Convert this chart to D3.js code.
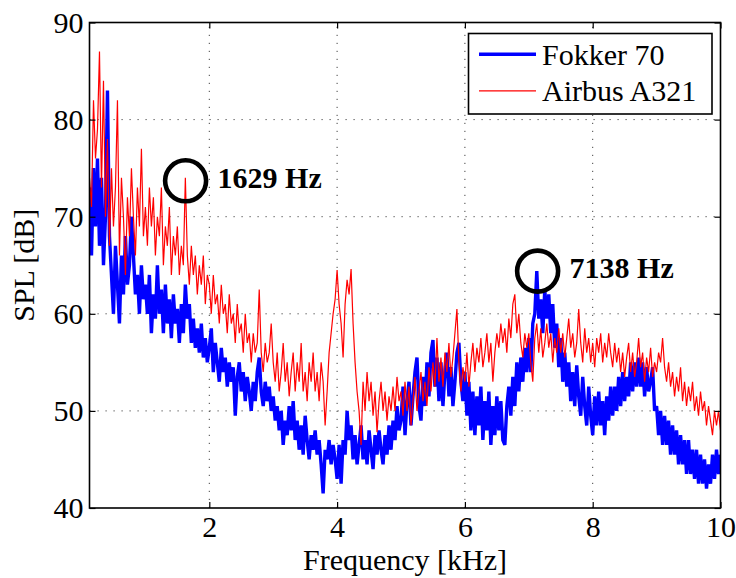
<!DOCTYPE html>
<html><head><meta charset="utf-8">
<script src="https://cdn.jsdelivr.net/npm/d3@7"></script>
<style>
body{margin:0;background:#fff}
svg{display:block}
text{font-family:"Liberation Serif","Times New Roman",Tinos,serif;fill:#000}
</style>
</head><body>
<svg id="chart" width="736" height="578"></svg>
<script>
// Frequency bins (kHz): first bin and bin spacing
const freqStartKHz = 0.125;
const freqStepKHz = 0.03125;

// SPL [dB], Fokker 70 (blue)
const fokker70 = [
  // 0.125 - 0.969 kHz
  73,66,75,69,76,67,74,65,70,83,68,64,60,67,63,59,66,62,68,63,65,70,66,62,64,60,65,61.5,
  // 1 kHz
  63,60,64,58,62,59.5,65,60,62.5,58,63,59,61.5,57.5,62,59,60.5,57,61,58,63,59.5,61,57,59.5,56.5,58.5,56,59,55.5,57.5,55,
  // 2 kHz
  56.5,58.5,54,57,55,53,56.5,54,55.5,52.5,55,53,54.5,49.5,53.5,55,52,54,51,53.5,52,50,53,51,54,55.5,52,50.5,53,51,52.5,50,
  // 3 kHz
  51.5,49,50.5,48,50,46.5,49,47.5,50.5,48,51,47,49,46,48.5,45.5,49.5,47,45,47.5,46,48,45.5,47,44.5,41.5,46,45,47,44.5,46.5,45,
  // 4 kHz
  43,46.5,42.5,47,45.5,50,47,48.5,45,47.5,44.5,46.5,48.5,45,47,44.5,48,46,44,47.5,45.5,48,46,44.5,47.5,45.5,48.5,46,49,47,50.5,48,
  // 5 kHz
  49,52.5,47.5,51,53,48.5,51.5,54,55.5,50.5,49,53.5,50.5,55,51.5,56,57.3,52.5,55.5,51,55,50.5,54,56,51.5,54.5,50.5,53,56,57,53,51,
  // 6 kHz
  54,49.5,53,48,52,47.5,51.5,48.5,52.5,47,51,48,52,46.5,50.5,47.5,51.5,48,51,47,46.5,50.5,52.5,49.5,53.5,50.5,55,52,55.5,53,56.5,54,
  // 7 kHz
  57.5,54,59,60,64.4,59.5,61.5,58,62.5,59.5,62,58,61,56.5,59,54.5,57.5,53,56,52.5,55,51,54,50.5,54.7,51.5,49.5,53.5,50.5,48.5,52.5,49.5,
  // 8 kHz
  47.5,51.5,48.5,52,48.5,51,47.5,51.5,49,52.5,49.5,52.5,50,53.5,50.5,54,51,53.5,51.5,55,52,55,52.5,55.5,52.5,55,51.5,54.5,52,53,54.5,50,
  // 9 kHz
  50.5,47.5,50,46.5,49.5,46.5,49,45.5,48.5,45.5,48,44.5,47.5,44.5,47,43.5,47,43.5,46,43,46,42.5,45.5,42.5,45,42,44.5,42.5,45.5,43,46,43.5,
  // 10 kHz
  45.5
];

// SPL [dB], Airbus A321 (red)
const airbusA321 = [
  // 0.125 - 0.969 kHz
  74,71,82,76,79,87,73,84,70,78,67,75,69,73,82,66,74,70,64,72,68,75,70,66,73,69,77,68,
  // 1 kHz
  71,67,73,69,72,66,70,68,73,65,69,67,71,64,68,66,69,64,67,65,74,66,63,67,64,66,62,65,63,66,61,64,
  // 2 kHz
  63,60,64,61,62,59,63,60,61,58,62,59,60,57,61,58,59,56,60,57,58,55,58,56,57,62.5,56,54,57,55,56,59,
  // 3 kHz
  55,53,56,52,54,57,53,55,51.5,54,56,52,55,53,57,52,54,51,55,53,56,52,54,51,55,53,48.5,52,56,58,60,61.5,
  // 4 kHz
  64.5,61,59,55.5,61,63.5,62,64.6,59,55,52,50,46.5,53,50,54,51,53,49.5,52,47.8,51,53,50,52,49,51.5,50,52.5,50,53.5,51,
  // 5 kHz
  52,49.5,53,50,52.5,48.5,51,53.5,50,52,54,51,53,50.5,54.5,52,55,52.5,57.5,53,55.5,52.5,56,54,57,53.5,55.5,58,60.5,55,52,54.5,
  // 6 kHz
  53,56,52.5,55,57,54,56.5,55,57.5,54.5,56,58,55,57,53,56,58,56.5,59,57,58.5,56,59.5,57.5,61,62,58,60,57,55.5,58,56.5,
  // 7 kHz
  58,55,53,57.5,59,56,58.5,55.5,57,59,56.5,58,55,57.5,56,58.5,56,58,55.5,57.5,59.5,56.5,58,55.5,57,60.5,57,55,58.5,56,57.5,55,
  // 8 kHz
  57,54.5,57.5,56,58,55,57,55.5,58,56,54.5,57,55,56.5,54,56,53.5,55.5,57,54,56,53.5,55,57.5,54.5,56,53,55.5,54,56.5,53.5,55,
  // 9 kHz
  54,56,55,57.5,54.5,53,55,52.5,54,51.5,53.5,52,54.5,51,53,50.5,52.5,51,53,50,51.5,49.5,52,50,51,48.5,50.5,49,47.5,50,48.5,50,
  // 10 kHz
  48
];

const seriesNames = ["Fokker 70", "Airbus A321"];
const xTicks = [2, 4, 6, 8, 10];
const yTicks = [40, 50, 60, 70, 80, 90];
const annotFreqKHz = [1.629, 7.138];
const annotLevelDb = [73.7, 64.4];
const annotLabels = ["1629 Hz", "7138 Hz"];

const freq = fokker70.map((_, i) => freqStartKHz + i * freqStepKHz);

const FONT = "'Liberation Serif','Times New Roman',Tinos,serif";
const svg = d3.select("#chart");
const L = 89.5, R = 720.5, T = 22.5, B = 508;
const x = d3.scaleLinear().domain([0.125, 10]).range([L, R]);
const y = d3.scaleLinear().domain([40, 90]).range([B, T]);

svg.append("rect").attr("width", 736).attr("height", 578).attr("fill", "#fff");

svg.append("defs").append("clipPath").attr("id", "clip")
  .append("rect").attr("x", L).attr("y", T).attr("width", R - L).attr("height", B - T);

// grid
const grid = svg.append("g").attr("stroke", "#444").attr("stroke-width", 1)
  .attr("stroke-dasharray", "1.2,6.8").attr("fill", "none");
xTicks.filter(t => t < 10).forEach(t => {
  grid.append("line").attr("x1", x(t)).attr("x2", x(t)).attr("y1", B).attr("y2", T);
});
yTicks.filter(t => t > 40 && t < 90).forEach(t => {
  grid.append("line").attr("x1", L).attr("x2", R).attr("y1", y(t)).attr("y2", y(t));
});

// lines
const line = d3.line().x((d, i) => x(freq[i])).y(d => y(d));
const plot = svg.append("g").attr("clip-path", "url(#clip)");
plot.append("path").datum(fokker70).attr("d", line)
  .attr("fill", "none").attr("stroke", "#0000ff").attr("stroke-width", 3.4);
plot.append("path").datum(airbusA321).attr("d", line)
  .attr("fill", "none").attr("stroke", "#ff0000").attr("stroke-width", 1.2);

// axes
function styleAxis(g) {
  g.attr("font-family", null).attr("font-size", null);
  g.select(".domain").remove();
  g.selectAll(".tick line").attr("stroke", "#000").attr("stroke-width", 1.2);
  g.selectAll(".tick text").style("font-family", FONT).style("font-size", "30px");
}
svg.append("g").attr("transform", `translate(0,${B})`)
  .call(d3.axisBottom(x).tickValues(xTicks).tickSizeInner(-6).tickSizeOuter(0).tickPadding(8))
  .call(styleAxis);
svg.append("g").attr("transform", `translate(0,${T})`)
  .call(d3.axisTop(x).tickValues(xTicks).tickSizeInner(-6).tickSizeOuter(0).tickFormat(""))
  .call(styleAxis);
svg.append("g").attr("transform", `translate(${L},0)`)
  .call(d3.axisLeft(y).tickValues(yTicks).tickSizeInner(-6).tickSizeOuter(0).tickPadding(6))
  .call(styleAxis);
svg.append("g").attr("transform", `translate(${R},0)`)
  .call(d3.axisRight(y).tickValues(yTicks).tickSizeInner(-6).tickSizeOuter(0).tickFormat(""))
  .call(styleAxis);

svg.append("rect").attr("x", L).attr("y", T).attr("width", R - L).attr("height", B - T)
  .attr("fill", "none").attr("stroke", "#000").attr("stroke-width", 1.6);

// axis labels
svg.append("text").attr("x", (L + R) / 2).attr("y", 570).attr("text-anchor", "middle")
  .style("font-family", FONT).style("font-size", "30px").text("Frequency [kHz]");
svg.append("text").attr("transform", `translate(34,${(T + B) / 2}) rotate(-90)`)
  .attr("text-anchor", "middle").style("font-family", FONT).style("font-size", "30px").text("SPL [dB]");

// legend
const lg = svg.append("g");
lg.append("rect").attr("x", 468.5).attr("y", 33.5).attr("width", 243.5).attr("height", 80.5)
  .attr("fill", "#fff").attr("stroke", "#000").attr("stroke-width", 1.6);
const legColors = ["#0000ff", "#ff0000"], legWidths = [3.4, 1.2];
seriesNames.forEach((name, i) => {
  const cy = 54.3 + i * 36.5;
  lg.append("line").attr("x1", 479).attr("x2", 536).attr("y1", cy).attr("y2", cy)
    .attr("stroke", legColors[i]).attr("stroke-width", legWidths[i]);
  lg.append("text").attr("x", 542).attr("y", cy + 10.5)
    .style("font-family", FONT).style("font-size", "30px").text(name);
});

// annotations
annotFreqKHz.forEach((f, i) => {
  const cx = x(f), cy = y(annotLevelDb[i]);
  svg.append("circle").attr("cx", cx).attr("cy", cy).attr("r", 20.5)
    .attr("fill", "none").attr("stroke", "#000").attr("stroke-width", 4.6);
  svg.append("text").attr("x", cx + 32).attr("y", cy + 7)
    .style("font-family", FONT).style("font-size", "30px").style("font-weight", "bold")
    .text(annotLabels[i]);
});
</script>
</body></html>
